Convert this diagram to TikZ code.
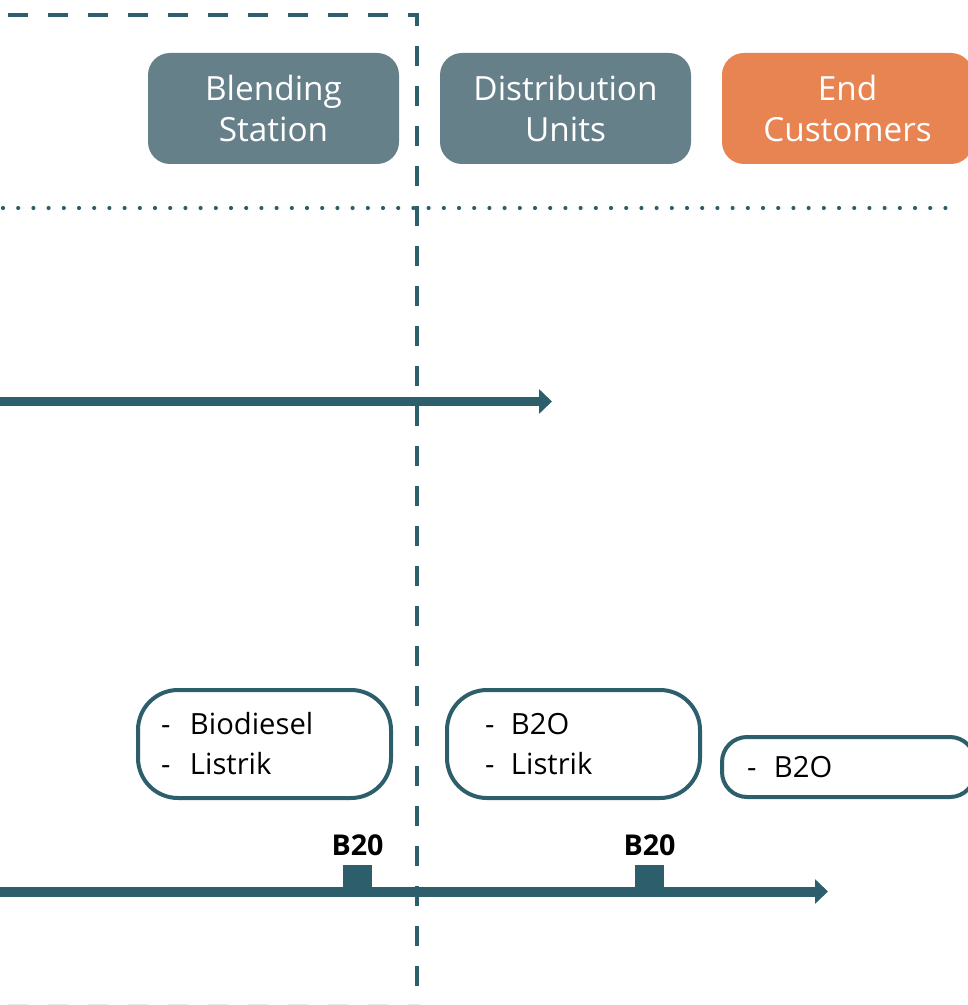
\documentclass[tikz,border=0pt]{standalone}
\usepackage{fontspec}
\setmainfont{Open Sans}
\usetikzlibrary{arrows.meta}
\definecolor{flowteal}{HTML}{2D5E6B}
\definecolor{stageslate}{HTML}{66808A}
\definecolor{stageorange}{HTML}{E88352}
\definecolor{edgegray}{HTML}{E6E9EA}
\newlength\pxu
\setlength\pxu{0.75pt}
\begin{document}
\begin{tikzpicture}[x=0.75pt,y=-0.75pt,
  stage/.style={rounded corners=16.5pt, fill=stageslate, text=white,
    minimum width=188.25pt, minimum height=83.25pt, inner sep=0pt,
    align=center, font=\fontsize{25}{30.75}\selectfont},
  itembox/.style={draw=flowteal, line width=3pt, rounded corners=30pt,
    minimum height=81pt, inner xsep=17.25pt, inner ysep=0pt,
    text width=155.25pt, align=left, font=\fontsize{21.9}{30}\selectfont},
  flowline/.style={draw=flowteal, -{Triangle[length=9.75pt,width=18pt]}},
  marker/.style={fill=flowteal, minimum width=21.75pt, minimum height=20.25pt, inner sep=0pt},
  markerlabel/.style={anchor=base, font=\bfseries\fontsize{21.5}{24}\selectfont},
  boundary/.style={draw=flowteal, line width=3pt, dash pattern=on 15pt off 15pt},
  lane/.style={draw=flowteal, line width=3.1pt, line cap=round, dash pattern=on 0pt off 11.4pt}
]
\useasboundingbox (0,0) rectangle (967,1005);

% scope boundary (dashed frame); its lower edge sits just under the page
\coordinate (fa) at (-32,15);
\coordinate (fb) at (417,15);
\coordinate (fc) at (417,1007);
\coordinate (fd) at (-40,1007);
\draw[boundary] (fa) -- (fb) -- (fc);
\coordinate (ga) at (8,1004.5);
\coordinate (gb) at (420,1004.5);
\draw[draw=edgegray, line width=0.75pt, dash pattern=on 15pt off 15pt] (ga) -- (gb);

% lane separator (dotted)
\coordinate (la) at (3,208);
\coordinate (lb) at (953,208);
\draw[lane] (la) -- (lb);

% stage headers
\node[stage] (blend) at (273.5,108.5) {Blending\\Station};
\node[stage] (dist) at (565.5,108.5) {Distribution\\Units};
\node[stage, fill=stageorange] (endc) at (847.5,108.5) {End\\Customers};

% upper flow
\coordinate (u0) at (0,401.5);
\coordinate (u1) at (552,401.5);
\draw[flowline, line width=6.75pt] (u0) -- (u1);

% product boxes
\node[itembox] (pb1) at (264.5,744)
  {\makebox[29\pxu][l]{-}Biodiesel\\\makebox[29\pxu][l]{-}Listrik};
\node[itembox] (pb2) at (573.5,744)
  {\hspace*{15\pxu}\makebox[26\pxu][l]{-}B2O\\\hspace*{15\pxu}\makebox[26\pxu][l]{-}Listrik};
\node[itembox, rounded corners=18.75pt, minimum height=45pt, inner xsep=18.75pt,
  text width=152.25pt] (pb3) at (848.5,767)
  {\makebox[27\pxu][l]{-}B2O};

% lower flow with B20 markers
\coordinate (d0) at (0,891.5);
\coordinate (d1) at (828,891.5);
\draw[flowline, line width=7.5pt] (d0) -- (d1);
\node[marker] (m1) at (357.5,878.5) {};
\node[marker] (m2) at (649.5,878.5) {};
\node[markerlabel] (t1) at (357.5,855) {B20};
\node[markerlabel] (t2) at (649.5,855) {B20};
\end{tikzpicture}
\end{document}
